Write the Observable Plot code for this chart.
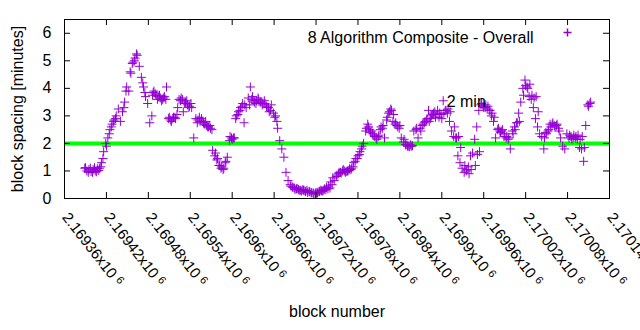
<!DOCTYPE html>
<html><head><meta charset="utf-8">
<script src="https://cdn.jsdelivr.net/npm/d3@7"></script>
<script src="https://cdn.jsdelivr.net/npm/@observablehq/plot@0.6"></script>
<style>
body{margin:0;background:#fff;}
</style>
</head><body><div id="chart"></div>
<script>
// block numbers (x) and block spacing in minutes (y)
const blocks = [
2169389,2169392,2169395,2169398,2169401,2169404,2169407,2169410,2169413,2169416,
2169419,2169422,2169425,2169428,2169431,2169434,2169437,2169440,2169443,2169446,
2169449,2169452,2169455,2169458,2169461,2169464,2169467,2169470,2169473,2169476,
2169479,2169482,2169485,2169488,2169491,2169494,2169497,2169500,2169503,2169506,
2169509,2169512,2169515,2169518,2169521,2169524,2169527,2169530,2169533,2169536,
2169539,2169542,2169545,2169548,2169551,2169554,2169557,2169560,2169563,2169566,
2169569,2169572,2169575,2169578,2169581,2169584,2169587,2169590,2169593,2169596,
2169599,2169602,2169605,2169608,2169611,2169614,2169617,2169620,2169623,2169626,
2169629,2169632,2169635,2169638,2169641,2169644,2169647,2169650,2169653,2169656,
2169659,2169662,2169665,2169668,2169671,2169674,2169677,2169680,2169683,2169686,
2169689,2169692,2169695,2169698,2169701,2169704,2169707,2169710,2169713,2169716,
2169719,2169722,2169725,2169728,2169731,2169734,2169737,2169740,2169743,2169746,
2169749,2169752,2169755,2169758,2169761,2169764,2169767,2169770,2169773,2169776,
2169779,2169782,2169785,2169788,2169791,2169794,2169797,2169800,2169803,2169806,
2169809,2169812,2169815,2169818,2169821,2169824,2169827,2169830,2169833,2169836,
2169839,2169842,2169845,2169848,2169851,2169854,2169857,2169860,2169863,2169866,
2169869,2169872,2169875,2169878,2169881,2169884,2169887,2169890,2169893,2169896,
2169899,2169902,2169905,2169908,2169911,2169914,2169917,2169920,2169923,2169926,
2169929,2169932,2169935,2169938,2169941,2169944,2169947,2169950,2169953,2169956,
2169959,2169962,2169965,2169968,2169971,2169974,2169977,2169980,2169983,2169986,
2169989,2169992,2169995,2169998,2170001,2170004,2170007,2170010,2170013,2170016,
2170019,2170022,2170025,2170028,2170031,2170034,2170037,2170040,2170043,2170046,
2170049,2170052,2170055,2170058,2170061,2170064,2170067,2170070,2170073,2170076,
2170079,2170082,2170085,2170088,2170091,2170094,2170097,2170100,2170103,2170106,
2170109,2170112
];
const spacing = [
1.1,1.0,1.05,0.98,1.05,1.0,1.08,1.1,1.3,1.7,
2.0,2.2,2.5,2.7,2.85,3.0,3.25,2.8,3.15,3.5,
4.05,3.9,4.55,4.95,5.1,5.2,4.8,4.4,4.05,3.7,
3.45,2.75,3.0,3.9,3.75,3.7,3.65,3.6,3.7,4.05,
2.9,2.85,2.9,2.95,3.05,3.6,3.65,3.15,3.5,3.4,
3.35,3.3,2.2,2.9,2.85,2.8,2.8,2.7,2.65,2.6,
2.55,1.75,1.55,1.4,1.2,1.1,1.05,1.3,1.5,2.1,
2.2,2.2,2.9,3.05,3.2,3.35,2.75,3.3,3.65,4.05,
3.7,3.5,3.55,3.6,3.5,3.45,3.45,3.3,3.15,3.4,
3.1,3.0,2.55,2.1,1.8,1.5,0.95,0.65,0.5,0.42,
0.38,0.35,0.33,0.3,0.32,0.28,0.3,0.26,0.22,0.2,
0.18,0.2,0.25,0.28,0.3,0.32,0.35,0.38,0.5,0.65,
0.8,0.9,0.95,1.0,1.0,0.98,1.02,1.05,1.15,1.35,
1.45,1.6,1.8,2.0,2.45,2.7,2.5,2.45,2.3,2.2,
2.25,2.5,2.55,2.2,2.85,3.1,3.25,2.8,2.7,2.65,
2.55,2.2,2.05,1.95,1.9,1.88,1.9,2.45,2.5,2.2,
2.55,2.65,2.75,2.85,3.2,2.9,3.05,3.15,3.05,2.95,
3.05,3.55,3.2,3.1,2.8,2.45,2.25,2.2,1.55,1.3,
1.1,0.95,1.0,1.15,1.55,1.65,2.15,2.6,3.2,3.4,
3.35,3.3,3.25,3.2,3.0,2.8,2.2,2.5,2.45,2.45,
2.25,2.2,2.15,1.8,2.45,2.6,2.75,3.1,3.5,4.0,
4.3,4.05,3.7,3.6,3.3,2.9,2.6,2.35,2.25,1.8,
2.4,2.45,2.7,2.7,2.65,2.65,2.55,2.2,1.9,1.8,
2.35,2.2,2.25,2.2,2.2,2.15,1.85,1.8,1.35,2.65,
3.4,3.45
];
const moreBlocks = [
2169390,2169394,2169397,2169400,2169403,2169406,2169409,2169412,2169415,2169420,
2169424,2169427,2169430,2169433,2169445,2169448,2169454,2169457,2169460,2169463,
2169472,2169475,2169486,2169487,2169490,2169493,2169496,2169499,2169502,2169505,
2169510,2169513,2169516,2169519,2169522,2169526,2169529,2169532,2169535,2169538,
2169541,2169550,2169553,2169556,2169559,2169562,2169565,2169568,2169571,2169576,
2169579,2169582,2169585,2169588,2169591,2169597,2169600,2169603,2169606,2169609,
2169612,2169615,2169618,2169625,2169628,2169631,2169634,2169637,2169640,2169643,
2169646,2169649,2169652,2169655,2169661,2169664,2169684,2169687,2169690,2169693,
2169696,2169699,2169702,2169705,2169708,2169711,2169714,2169717,2169720,2169723,
2169726,2169729,2169732,2169735,2169738,2169741,2169744,2169750,2169753,2169756,
2169759,2169762,2169765,2169768,2169771,2169774,2169777,2169780,2169783,2169786,
2169792,2169795,2169798,2169801,2169804,2169807,2169810,2169813,2169816,2169822,
2169825,2169828,2169831,2169834,2169837,2169840,2169846,2169849,2169852,2169855,
2169858,2169864,2169870,2169873,2169876,2169879,2169882,2169885,2169888,2169891,
2169894,2169897,2169900,2169903,2169906,2169909,2169912,2169918,2169921,2169924,
2169927,2169933,2169936,2169939,2169942,2169948,2169951,2169954,2169957,2169960,
2169963,2169966,2169969,2169972,2169975,2169981,2169984,2169987,2169990,2169993,
2169996,2170002,2170005,2170008,2170011,2170017,2170020,2170023,2170026,2170029,
2170032,2170035,2170038,2170047,2170050,2170053,2170056,2170059,2170062,2170065,
2170068,2170083,2170086,2170089,2170092,2170095,2170098,2170101,2170104,2170110,
2170113
];
const moreSpacing = [
1.12,0.95,1.1,0.95,1.12,0.97,1.02,1.15,1.45,1.9,
2.35,2.6,2.8,2.9,3.3,3.9,4.6,4.9,5.0,5.25,
4.2,3.85,3.75,3.85,3.8,3.6,3.75,3.55,3.65,3.6,
2.95,2.8,2.95,2.9,3.3,3.55,3.6,3.45,3.55,3.3,
3.45,2.75,2.95,2.9,2.75,2.8,2.6,2.65,2.5,1.65,
1.45,1.2,1.15,1.1,1.35,2.25,2.15,2.2,3.0,3.15,
3.3,3.45,3.4,3.4,3.6,3.55,3.45,3.65,3.5,3.4,
3.55,3.35,3.3,3.2,2.95,2.8,0.45,0.4,0.33,0.36,
0.3,0.27,0.3,0.25,0.22,0.24,0.2,0.16,0.22,0.24,
0.3,0.27,0.35,0.4,0.45,0.6,0.75,0.85,0.95,0.92,
1.05,0.95,1.0,1.08,1.1,1.3,1.45,1.55,1.7,1.9,
2.55,2.6,2.4,2.35,2.25,2.15,2.3,2.6,2.65,2.95,
3.15,3.2,3.05,2.75,2.6,2.65,2.15,1.95,1.9,1.95,
1.92,2.55,2.45,2.7,2.8,2.9,2.8,3.0,3.1,2.95,
3.2,3.1,2.9,3.1,3.2,3.25,3.15,2.6,2.2,2.25,
1.85,1.2,1.05,0.9,1.05,1.2,1.6,1.7,3.45,3.3,
3.4,3.35,3.2,3.1,2.95,2.55,2.4,2.5,2.35,2.25,
2.2,2.35,2.5,2.75,2.8,3.75,4.1,4.0,4.15,3.75,
3.65,3.7,3.15,2.2,2.35,2.5,2.6,2.75,2.6,2.7,
2.45,2.3,2.15,2.3,2.25,2.3,2.15,2.25,1.85,3.35,
3.5
];
const xTicks = [2169360,2169420,2169480,2169540,2169600,2169660,2169720,2169780,2169840,2169900,2169960,2170020,2170080,2170140];
const xTickLabels = ["2.16936","2.16942","2.16948","2.16954","2.1696","2.16966","2.16972","2.16978","2.16984","2.1699","2.16996","2.17002","2.17008","2.17014"];
const xTickExponent = "6";
const yTicks = [0,1,2,3,4,5,6];
const targetSpacing = [2];
const seriesName = "8 Algorithm Composite - Overall";
const annotation = {text: "2 min", block: 2169907, value: 3.5};

const data = blocks.map((b, i) => ({block: b, spacing: spacing[i]}))
  .concat(moreBlocks.map((b, i) => ({block: b, spacing: moreSpacing[i]})));
const purple = "#9400d3";
const font = "'Liberation Sans', Arial, sans-serif";

const plusSymbol = {
  draw(ctx, size) {
    const r = Math.sqrt(size / Math.PI);
    ctx.moveTo(-r, 0); ctx.lineTo(r, 0);
    ctx.moveTo(0, -r); ctx.lineTo(0, r);
  }
};

const chart = Plot.plot({
  width: 640, height: 330,
  marginLeft: 64, marginRight: 31, marginTop: 19, marginBottom: 132,
  style: {fontFamily: font, fontSize: "16px", background: "white", color: "black", overflow: "visible"},
  x: {domain: [2169360, 2170140], axis: null},
  y: {domain: [0, 6.5], axis: null},
  marks: [
    Plot.ruleY(targetSpacing, {stroke: "#00ff00", strokeWidth: 4}),
    Plot.dot(data, {x: "block", y: "spacing", symbol: plusSymbol, r: 4.5, stroke: purple, fill: "none", strokeWidth: 1}),
    Plot.frame({stroke: "black"}),
    // inward ticks (bottom, top, left, right)
    Plot.tickX(xTicks.slice(1, -1), {x: d => d, insetTop: 173, stroke: "black"}),
    Plot.tickX(xTicks.slice(1, -1), {x: d => d, insetBottom: 173, stroke: "black"}),
    Plot.tickY(yTicks.slice(1), {y: d => d, insetRight: 539, stroke: "black"}),
    Plot.tickY(yTicks.slice(1), {y: d => d, insetLeft: 539, stroke: "black"}),
    // y tick labels
    Plot.text(yTicks, {y: d => d, frameAnchor: "left", dx: -13, textAnchor: "end", fill: "black", fontSize: 16}),
    // x tick labels (rotated)
    Plot.text(xTicks, {x: d => d, text: (d, i) => xTickLabels[i] + "x10", frameAnchor: "bottom", dy: 19, dx: -3, rotate: 52, textAnchor: "start", lineAnchor: "bottom", fill: "black", fontSize: 15, className: "xtl"}),
    // axis titles
    Plot.text(["block number"], {frameAnchor: "bottom", dy: 118, textAnchor: "middle", fill: "black", fontSize: 16}),
    Plot.text(["block spacing [minutes]"], {frameAnchor: "left", dx: -47, rotate: -90, textAnchor: "middle", fill: "black", fontSize: 16}),
    // legend
    Plot.text([seriesName], {frameAnchor: "top-right", dx: -76, dy: 12, textAnchor: "end", fill: "black", fontSize: 16}),
    Plot.dot([seriesName], {frameAnchor: "top-right", dx: -42, dy: 13, symbol: plusSymbol, r: 4, stroke: purple, fill: "none"}),
    // annotation
    Plot.text([annotation], {x: "block", y: "value", text: "text", textAnchor: "start", fill: "black", fontSize: 16})
  ]
});

d3.select(chart).selectAll("g.xtl text").each(function() {
  d3.select(this).append("tspan").attr("dx", "4").attr("dy", "-4").attr("font-size", "11").text(xTickExponent);
});

document.getElementById("chart").appendChild(chart);
</script>
</body></html>
